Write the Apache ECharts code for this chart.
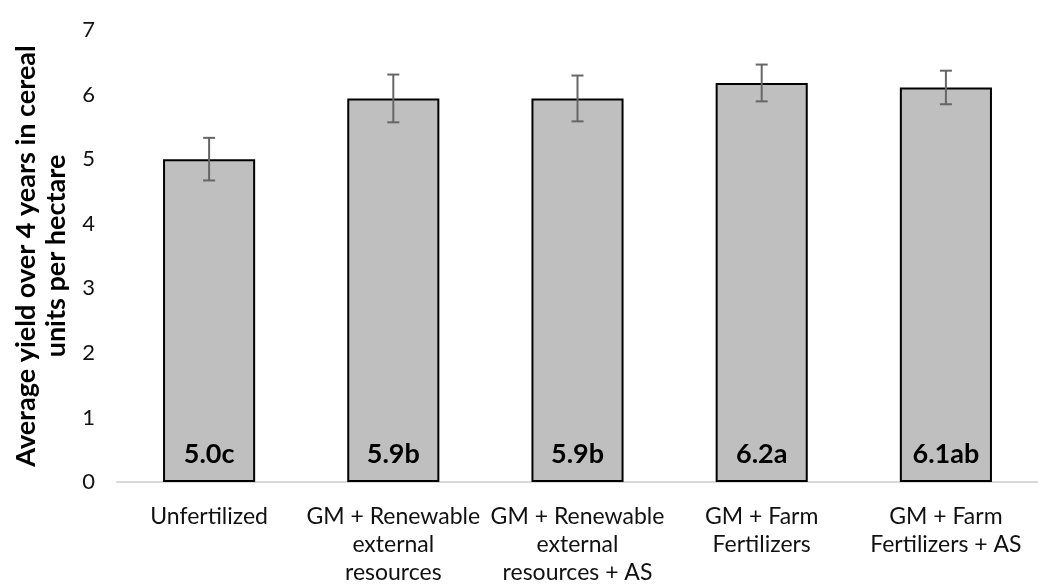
<!DOCTYPE html>
<html>
<head>
<meta charset="utf-8">
<script src="https://cdn.jsdelivr.net/npm/echarts@6/dist/echarts.min.js"></script>
<style>
html,body{margin:0;padding:0;background:#fff;}
#chart{width:1038px;height:587px;}
</style>
</head>
<body>
<div id="chart"></div>
<script>
var categories = [
  "Unfertilized",
  "GM + Renewable\nexternal\nresources",
  "GM + Renewable\nexternal\nresources + AS",
  "GM + Farm\nFertilizers",
  "GM + Farm\nFertilizers + AS"
];
var means = [5.0, 5.94, 5.94, 6.18, 6.11];
var errors = [0.33, 0.37, 0.355, 0.285, 0.26];
var barLabels = ["5.0c", "5.9b", "5.9b", "6.2a", "6.1ab"];
var yTicks = [0, 1, 2, 3, 4, 5, 6, 7];

var FONT = "Lato";
var chart = echarts.init(document.getElementById('chart'), null, {renderer: 'canvas'});
var errData = means.map(function (m, i) { return [i, m - errors[i], m + errors[i]]; });

chart.setOption({
  animation: false,
  textStyle: {fontFamily: FONT},
  grid: {left: 117, top: 30, bottom: 103, width: 935, containLabel: false},
  xAxis: {
    type: 'category',
    data: categories,
    axisLine: {lineStyle: {color: '#d9d9d9', width: 2}},
    axisTick: {show: false},
    axisLabel: {color: '#111', fontSize: 23, fontFamily: FONT, lineHeight: 28, margin: 21, interval: 0}
  },
  yAxis: {
    type: 'value',
    min: yTicks[0],
    max: yTicks[yTicks.length - 1],
    interval: 1,
    splitLine: {show: false},
    axisLine: {show: false},
    axisTick: {show: false},
    axisLabel: {color: '#111', fontSize: 22, fontFamily: FONT, margin: 22},
    name: 'Average yield over 4 years in cereal\nunits per hectare',
    nameLocation: 'middle',
    nameGap: 44,
    nameTextStyle: {color: '#000', fontSize: 27, fontWeight: 'bold', fontFamily: FONT, lineHeight: 30}
  },
  series: [
    {
      type: 'bar',
      data: means,
      barWidth: '50%',
      itemStyle: {color: '#bfbfbf', borderColor: '#000', borderWidth: 2},
      label: {
        show: true,
        position: 'insideBottom',
        distance: 14,
        formatter: function (p) { return barLabels[p.dataIndex]; },
        color: '#000',
        fontSize: 27,
        fontWeight: 'bold',
        fontFamily: FONT
      }
    },
    {
      type: 'custom',
      data: errData,
      z: 10,
      renderItem: function (params, api) {
        var x = api.value(0);
        var lo = api.coord([x, api.value(1)]);
        var hi = api.coord([x, api.value(2)]);
        var hw = 6;
        var st = {stroke: '#666', lineWidth: 2};
        return {
          type: 'group',
          children: [
            {type: 'line', shape: {x1: lo[0], y1: lo[1], x2: hi[0], y2: hi[1]}, style: st},
            {type: 'line', shape: {x1: lo[0] - hw, y1: lo[1], x2: lo[0] + hw, y2: lo[1]}, style: st},
            {type: 'line', shape: {x1: hi[0] - hw, y1: hi[1], x2: hi[0] + hw, y2: hi[1]}, style: st}
          ]
        };
      }
    }
  ]
});
</script>
</body>
</html>
